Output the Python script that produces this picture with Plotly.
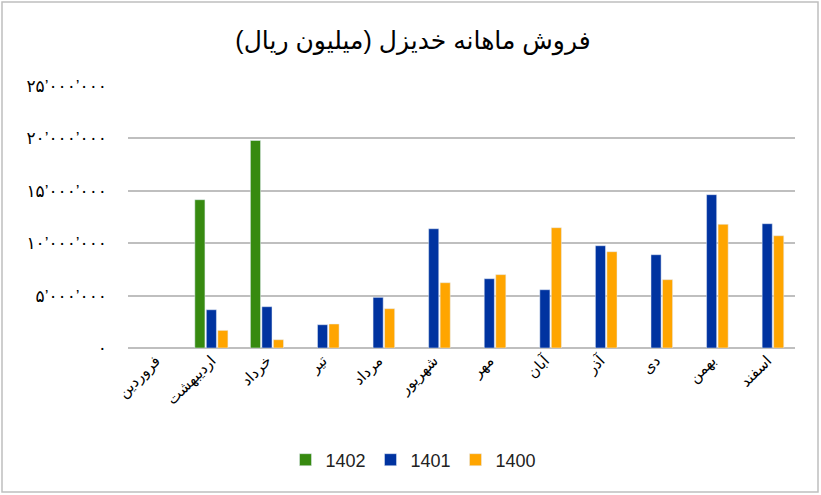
import plotly.graph_objects as go

months = ["فروردین", "اردیبهشت", "خرداد", "تیر", "مرداد", "شهریور",
          "مهر", "آبان", "آذر", "دی", "بهمن", "اسفند"]
s1402 = [None, 14150000, 19800000, None, None, None, None, None, None, None, None, None]
s1401 = [None, 3650000, 3940000, 2220000, 4830000, 11380000, 6610000, 5560000, 9760000, 8900000, 14630000, 11860000]
s1400 = [None, 1680000, 790000, 2290000, 3750000, 6230000, 7000000, 11480000, 9190000, 6520000, 11800000, 10710000]
tick_vals = [0, 5000000, 10000000, 15000000, 20000000, 25000000]
tick_text = ["۰", "۵’۰۰۰’۰۰۰", "۱۰’۰۰۰’۰۰۰", "۱۵’۰۰۰’۰۰۰", "۲۰’۰۰۰’۰۰۰", "۲۵’۰۰۰’۰۰۰"]

font = "Liberation Sans, Arial, DejaVu Sans"
fig = go.Figure()
fig.add_bar(x=months, y=s1402, name="1402", marker_color="#378A10")
fig.add_bar(x=months, y=s1401, name="1401", marker_color="#0033A0")
fig.add_bar(x=months, y=s1400, name="1400", marker_color="#FFA500")

W, H = 821, 495
ml, mr, mt, mb = 128, 26, 86, 147
pw, ph = W - ml - mr, H - mt - mb

fig.update_layout(
    width=W, height=H,
    margin=dict(l=ml, r=mr, t=mt, b=mb, autoexpand=False),
    paper_bgcolor="white", plot_bgcolor="white",
    barmode="group", bargap=0.38, bargroupgap=0.12,
    title=dict(text="فروش ماهانه خدیزل (میلیون ریال)", x=413 / W, xref="container",
               xanchor="center", y=1 - 40 / H, yref="container", yanchor="middle",
               font=dict(family=font, size=25, color="black")),
    font=dict(family=font, color="black"),
    legend=dict(orientation="h", x=(413 - ml) / pw, xanchor="center", y=-(460 - 348) / ph,
                yanchor="middle", font=dict(size=18, color="#222"),
                entrywidth=40, entrywidthmode="pixels", itemwidth=30, traceorder="normal"),
    showlegend=True,
)
fig.update_xaxes(tickangle=-45, tickfont=dict(size=15, color="black"), automargin=False,
                 showline=False, ticks="", showgrid=False)
fig.update_yaxes(range=[0, 25000000], tickvals=tick_vals, ticktext=tick_text, automargin=False,
                 showgrid=True, gridcolor="#BFBFBF", gridwidth=2,
                 zeroline=True, zerolinecolor="#BFBFBF", zerolinewidth=2,
                 tickfont=dict(size=17, color="black"), ticks="", ticklabelstandoff=20)
fig.add_shape(type="rect", xref="paper", yref="paper",
              x0=-(ml - 2) / pw, x1=1 + (mr - 3) / pw,
              y0=-(mb - 3) / ph, y1=1 + (mt - 2) / ph,
              line=dict(color="#BFBFBF", width=1.5), fillcolor="rgba(0,0,0,0)")
fig.write_html("out.html", config={"displayModeBar": False},
               post_script="document.body.style.margin='0';document.body.style.overflow='hidden';")
